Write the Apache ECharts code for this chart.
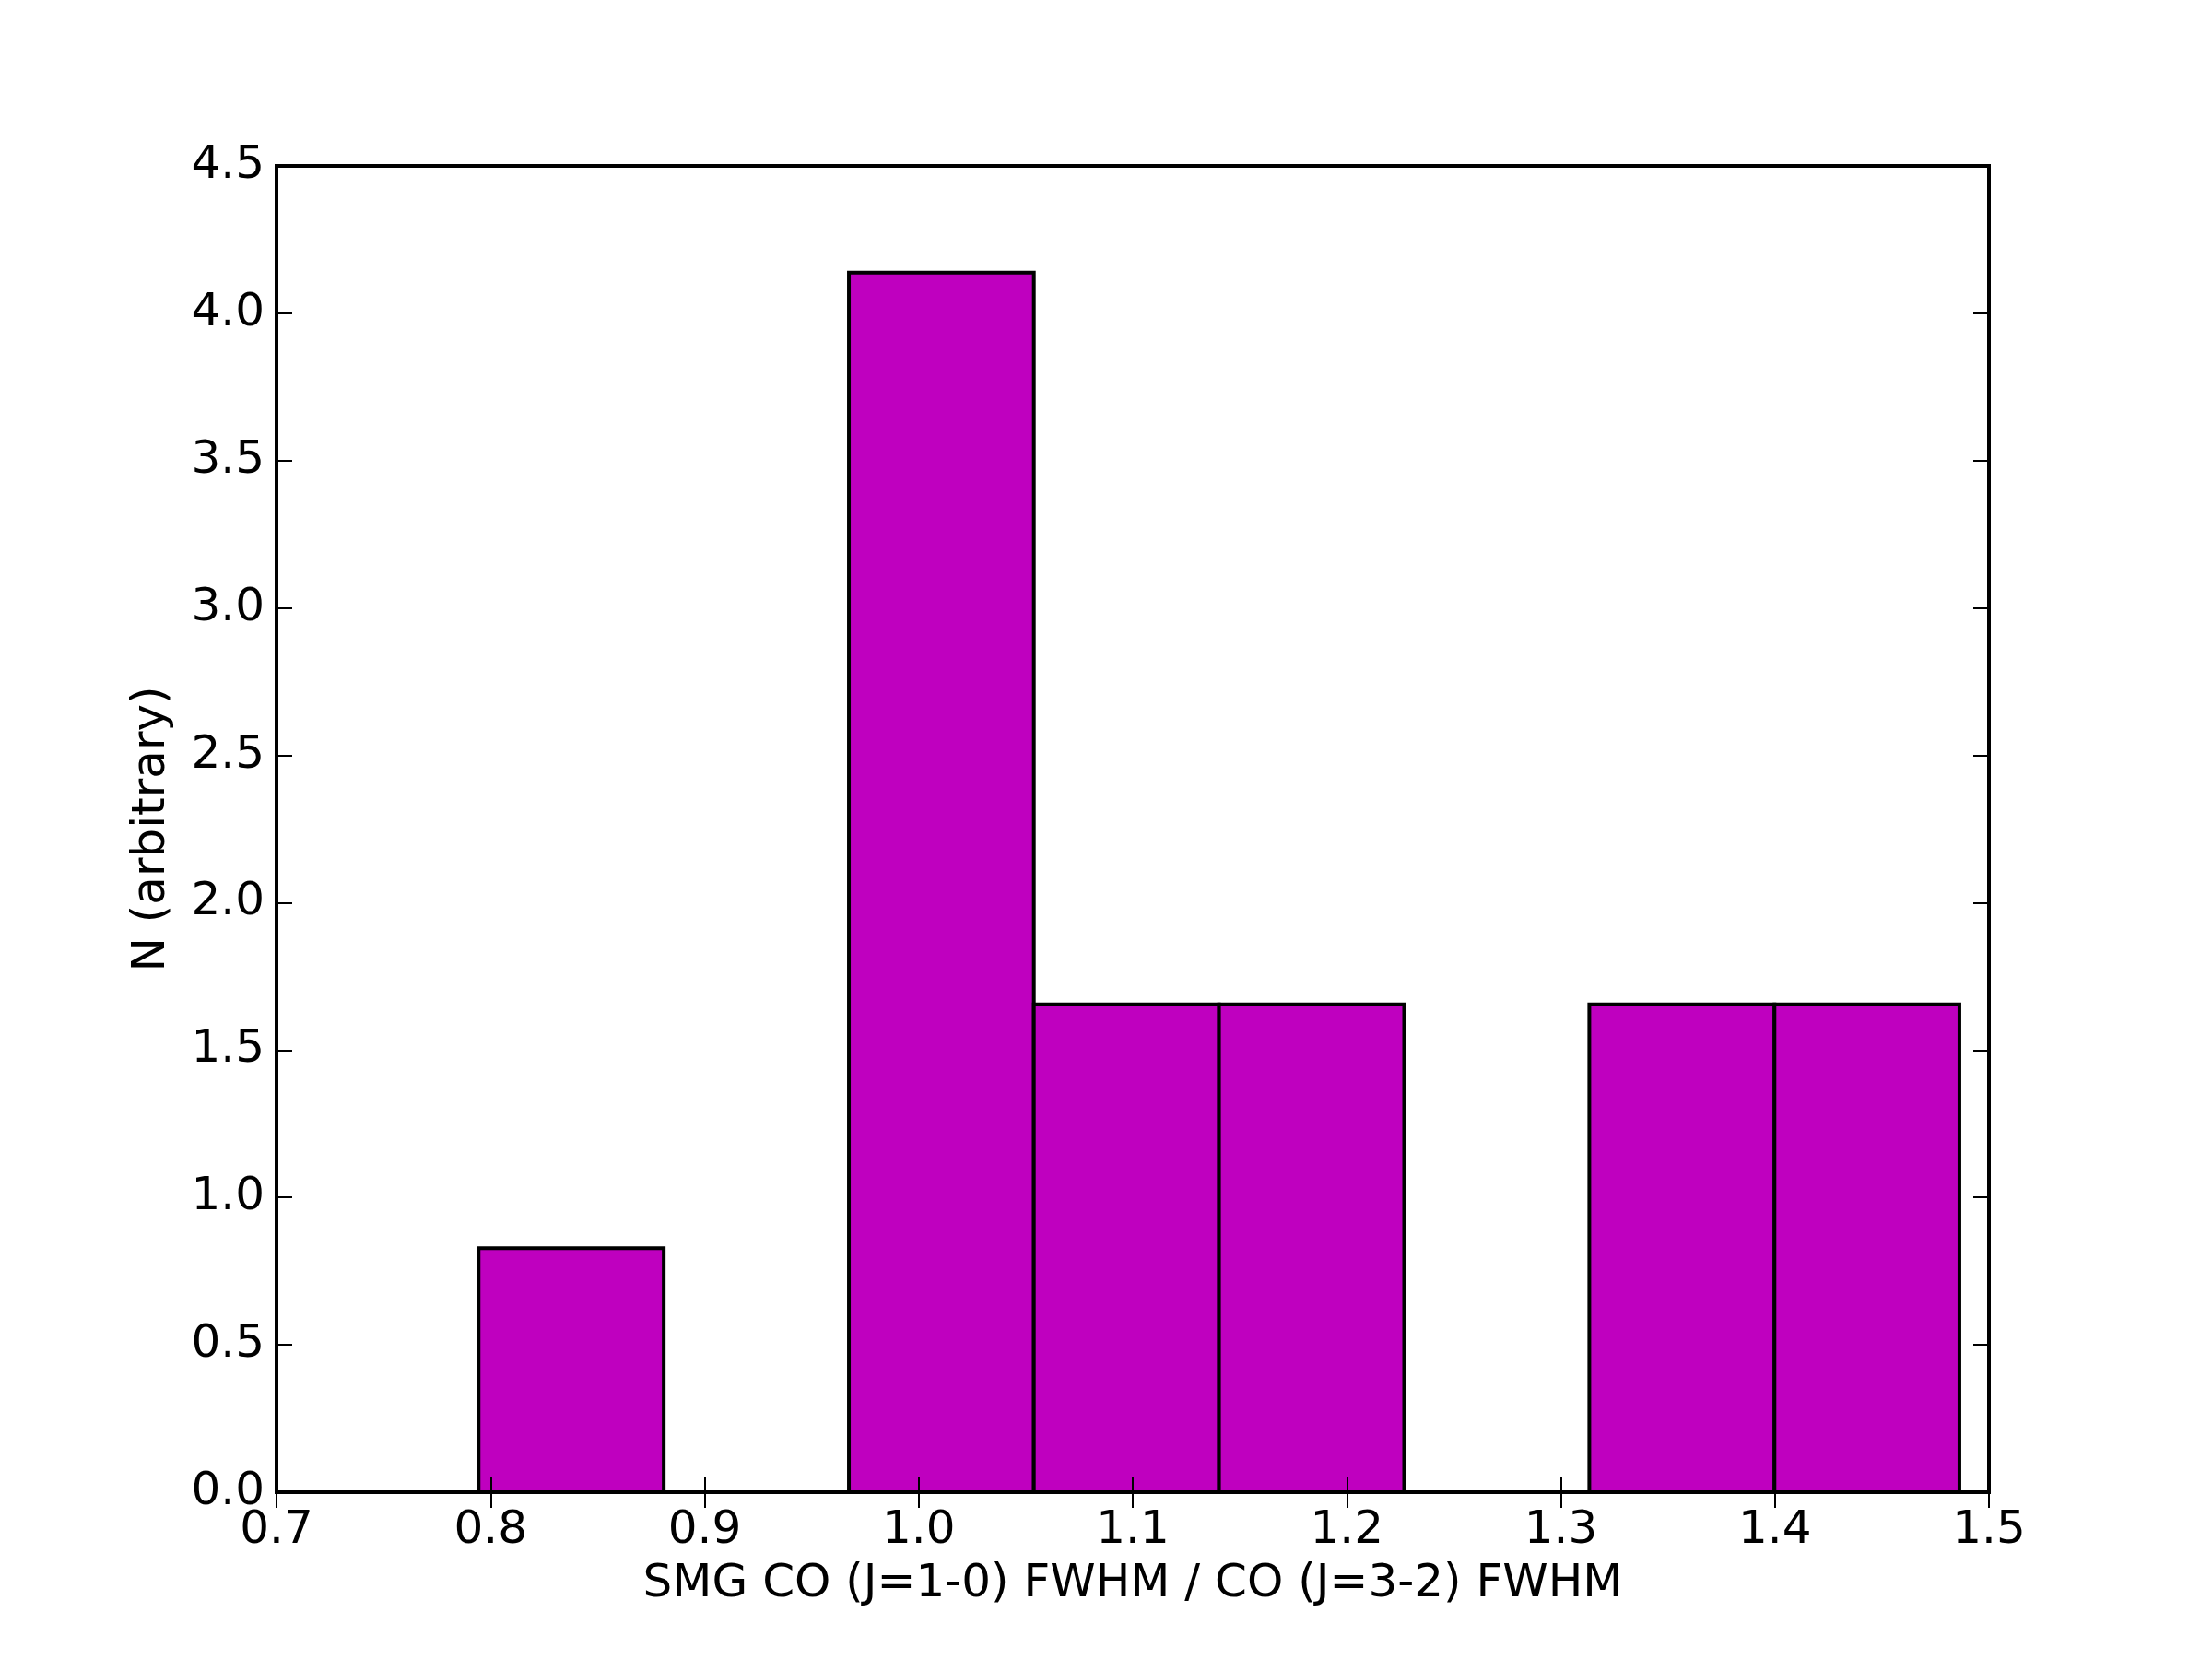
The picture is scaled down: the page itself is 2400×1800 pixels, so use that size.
<!DOCTYPE html>
<html>
<head>
<meta charset="utf-8">
<script src="https://cdn.jsdelivr.net/npm/echarts@6/dist/echarts.min.js"></script>
<style>
  html, body { margin: 0; padding: 0; background: #fff; }
  #histContainer { width: 2400px; height: 1800px; }
</style>
</head>
<body>
<div id="histContainer"></div>
<script>
// histogram bin edges (8 bins) and heights
let binEdges = [0.7944, 0.8809, 0.9674, 1.0538, 1.1403, 1.2268, 1.3133, 1.3998, 1.4862];
let binHeights = [0.828, 0, 4.138, 1.655, 1.655, 0, 1.655, 1.655];
let xTicks = [0.7, 0.8, 0.9, 1.0, 1.1, 1.2, 1.3, 1.4, 1.5];
let yTicks = [0.0, 0.5, 1.0, 1.5, 2.0, 2.5, 3.0, 3.5, 4.0, 4.5];

let bins = [];
for (let i = 0; i < binHeights.length; i++) {
  bins.push([binEdges[i], binEdges[i + 1], binHeights[i]]);
}

const font = 'DejaVu Sans';
const tickStyle = { inside: true, length: 17, lineStyle: { color: '#000', width: 2 } };

var myChart = echarts.init(document.getElementById('histContainer'));
var option = {
  backgroundColor: '#fff',
  animation: false,
  textStyle: { fontFamily: font },
  grid: {
    left: 300, right: 242, top: 180, bottom: 181,
    show: true, borderColor: '#000', borderWidth: 4
  },
  xAxis: [
    {
      type: 'value', min: xTicks[0], max: xTicks[xTicks.length - 1], interval: 0.1,
      position: 'bottom', z: 5,
      name: 'SMG CO (J=1-0) FWHM / CO (J=3-2) FWHM',
      nameLocation: 'middle', nameGap: 75,
      nameTextStyle: { fontSize: 50, color: '#000', fontFamily: font },
      axisLine: { show: false },
      axisTick: tickStyle,
      splitLine: { show: false },
      axisLabel: { fontSize: 50, color: '#000', margin: 17, fontFamily: font,
        formatter: v => v.toFixed(1) }
    },
    {
      type: 'value', min: xTicks[0], max: xTicks[xTicks.length - 1], interval: 0.1,
      position: 'top', z: 5,
      axisLine: { show: false },
      axisTick: tickStyle,
      splitLine: { show: false },
      axisLabel: { show: false }
    }
  ],
  yAxis: [
    {
      type: 'value', min: yTicks[0], max: yTicks[yTicks.length - 1], interval: 0.5,
      position: 'left', z: 5,
      name: 'N (arbitrary)',
      nameLocation: 'middle', nameGap: 110,
      nameTextStyle: { fontSize: 50, color: '#000', fontFamily: font },
      axisLine: { show: false },
      axisTick: tickStyle,
      splitLine: { show: false },
      axisLabel: { fontSize: 50, color: '#000', margin: 13, fontFamily: font,
        formatter: v => v.toFixed(1) }
    },
    {
      type: 'value', min: yTicks[0], max: yTicks[yTicks.length - 1], interval: 0.5,
      position: 'right', z: 5,
      axisLine: { show: false },
      axisTick: tickStyle,
      splitLine: { show: false },
      axisLabel: { show: false }
    }
  ],
  series: [
    {
      type: 'custom',
      xAxisIndex: 0,
      yAxisIndex: 0,
      z: 1,
      renderItem: function (params, api) {
        let p0 = api.coord([api.value(0), api.value(2)]);
        let p1 = api.coord([api.value(1), 0]);
        return {
          type: 'rect',
          shape: { x: p0[0], y: p0[1], width: p1[0] - p0[0], height: p1[1] - p0[1] },
          style: { fill: '#bf00bf', stroke: '#000', lineWidth: 4 }
        };
      },
      encode: { x: [0, 1], y: 2 },
      data: bins
    }
  ]
};
myChart.setOption(option);
</script>
</body>
</html>
